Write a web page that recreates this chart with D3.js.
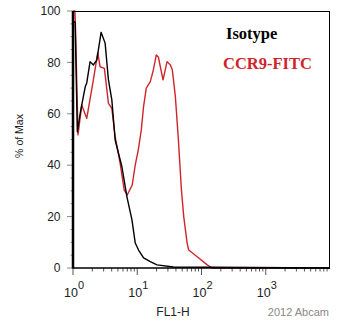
<!DOCTYPE html>
<html><head><meta charset="utf-8">
<script src="https://cdn.jsdelivr.net/npm/d3@7"></script>
<style>
html,body{margin:0;padding:0;background:#fff;}
svg{display:block;}
</style></head>
<body>
<script>
// ---- data ----
const isotypeX = [1.0, 1.08, 1.167, 1.30, 1.449, 1.55, 1.637, 1.844, 2.075, 2.345, 2.738, 3.162, 3.56, 4.02, 4.53, 5.77, 6.91, 8.27, 9.31, 10.48, 12.54, 15.96, 20.3, 36.5, 10000];
const isotypeY = [96, 95.7, 53.0, 60.5, 66.7, 70.5, 72.0, 80.3, 79.0, 80.9, 91.7, 87.5, 73.2, 65.4, 49.8, 39.4, 27.7, 18.7, 9.7, 7.0, 3.9, 2.5, 1.2, 0.4, 0];
const ccr9X = [1.0, 1.07, 1.09, 1.197, 1.367, 1.637, 2.075, 2.43, 2.64, 3.08, 3.56, 4.02, 4.53, 5.42, 6.26, 6.98, 8.35, 9.31, 10.37, 11.55, 12.54, 13.82, 15.96, 17.78, 19.8, 21.3, 25.2, 29.1, 32.8, 35.2, 39.2, 43.7, 48.7, 52.9, 59.8, 63.3, 85.7, 122.8, 146.9, 10000];
const ccr9Y = [100, 100, 95, 51.8, 63.4, 58.2, 73.2, 83.8, 78.3, 77.7, 64.1, 62.1, 51.1, 40.7, 30.4, 28.4, 32.3, 40.1, 45.9, 53.7, 62.8, 70.0, 72.5, 77.0, 82.9, 82.1, 73.2, 80.3, 79.0, 77.0, 66.7, 49.8, 30.4, 20.0, 9.6, 7.0, 4.4, 1.2, 0, 0];
const yTickValues = [0, 20, 40, 60, 80, 100];
const xDecades = [1, 10, 100, 1000];
const xTickExponents = ["0", "1", "2", "3"];
const seriesNames = ["Isotype", "CCR9-FITC"];
const seriesColors = ["#000000", "#d0242b"];

// ---- layout ----
const W = 340, H = 326;
const L = 73, R = 330, T = 11, B = 268;
const svg = d3.select("body").append("svg").attr("width", W).attr("height", H);

const x = d3.scaleLog().domain([1, 10000]).range([L, R]);
const y = d3.scaleLinear().domain([0, 100]).range([B, T]);

// y ticks (minor every 5, major every 20)
const yMinor = d3.range(0, 101, 5);
svg.append("g").selectAll("line").data(yMinor).join("line")
  .attr("x1", d => L - (d % 20 === 0 ? 6 : 2.5)).attr("x2", L)
  .attr("y1", d => y(d)).attr("y2", d => y(d))
  .attr("stroke", "#888").attr("stroke-width", 1);
svg.append("g").selectAll("text").data(yTickValues).join("text")
  .attr("x", L - 12.5).attr("y", d => y(d)).attr("dy", "0.35em")
  .attr("text-anchor", "end")
  .attr("font-family", "Liberation Sans, Arial, sans-serif")
  .attr("font-size", 12).attr("fill", "#222").text(d => d);

// x ticks (log minor)
const xMinor = [];
xDecades.forEach(d => { for (let k = 2; k <= 9; k++) xMinor.push(d * k); });
svg.append("g").selectAll("line").data(xMinor).join("line")
  .attr("x1", d => x(d)).attr("x2", d => x(d))
  .attr("y1", B).attr("y2", B + 3.5)
  .attr("stroke", "#555").attr("stroke-width", 1);
svg.append("g").selectAll("line").data(xDecades).join("line")
  .attr("x1", d => x(d)).attr("x2", d => x(d))
  .attr("y1", B).attr("y2", B + 7)
  .attr("stroke", "#555").attr("stroke-width", 1);
const xl = svg.append("g").selectAll("text").data(xDecades).join("text")
  .attr("x", d => x(d) + 1).attr("y", B + 29)
  .attr("text-anchor", "middle")
  .attr("font-family", "Liberation Sans, Arial, sans-serif")
  .attr("font-size", 12.5).attr("fill", "#222");
xl.append("tspan").text("10");
xl.append("tspan").attr("dy", -8.5).attr("font-size", 11).text((d, i) => xTickExponents[i]);

// curves
const line = d3.line().x(d => x(d[0])).y(d => y(d[1]));
const ccr9 = ccr9X.map((v, i) => [v, ccr9Y[i]]);
const iso = isotypeX.map((v, i) => [v, isotypeY[i]]);
svg.append("path").datum(ccr9).attr("d", line).attr("fill", "none")
  .attr("stroke", seriesColors[1]).attr("stroke-width", 1.4).attr("stroke-linejoin", "round");
svg.append("path").datum(iso).attr("d", line).attr("fill", "none")
  .attr("stroke", seriesColors[0]).attr("stroke-width", 1.4).attr("stroke-linejoin", "round");

// frame
svg.append("line").attr("x1", L).attr("x2", R).attr("y1", T + 0.5).attr("y2", T + 0.5).attr("stroke", "#000").attr("stroke-width", 1);
svg.append("line").attr("x1", R - 0.5).attr("x2", R - 0.5).attr("y1", T).attr("y2", B).attr("stroke", "#000").attr("stroke-width", 1);
svg.append("line").attr("x1", L).attr("x2", R).attr("y1", B).attr("y2", B).attr("stroke", "#000").attr("stroke-width", 1.3);
svg.append("line").attr("x1", L).attr("x2", L).attr("y1", T).attr("y2", B + 0.6).attr("stroke", "#000").attr("stroke-width", 2.5);

// axis titles
svg.append("text").attr("transform", `translate(23,136) rotate(-90)`)
  .attr("text-anchor", "middle")
  .attr("font-family", "Liberation Sans, Arial, sans-serif")
  .attr("font-size", 10.5).attr("fill", "#222").text("% of Max");
svg.append("text").attr("x", 173).attr("y", 316).attr("text-anchor", "middle")
  .attr("font-family", "Liberation Sans, Arial, sans-serif")
  .attr("font-size", 12).attr("fill", "#222").text("FL1-H");
svg.append("text").attr("x", 329).attr("y", 316).attr("text-anchor", "end")
  .attr("font-family", "Liberation Sans, Arial, sans-serif")
  .attr("font-size", 11).attr("fill", "#888").text("2012 Abcam");

// legend
svg.append("text").attr("x", 226).attr("y", 39)
  .attr("font-family", "Liberation Serif, Times New Roman, serif").attr("font-weight", "bold")
  .attr("font-size", 16.5).attr("fill", seriesColors[0]).text(seriesNames[0]);
svg.append("text").attr("x", 223).attr("y", 69)
  .attr("font-family", "Liberation Serif, Times New Roman, serif").attr("font-weight", "bold")
  .attr("font-size", 16.5).attr("fill", seriesColors[1]).text(seriesNames[1]);
</script>
</body></html>
